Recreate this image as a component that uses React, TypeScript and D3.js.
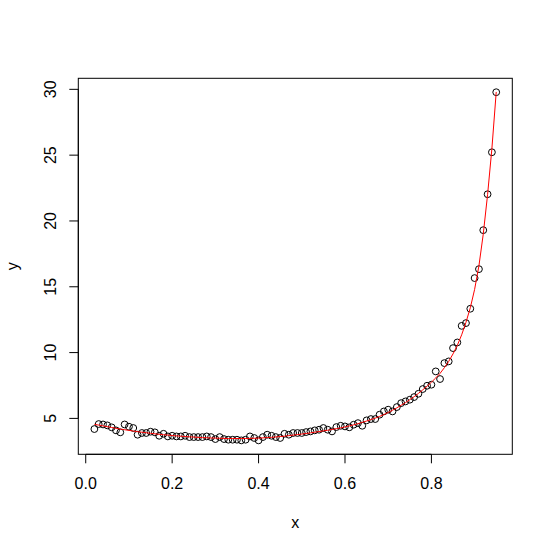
import React from "react";
import * as d3 from "d3";

const xValues = [
  0.02, 0.03, 0.04, 0.05, 0.06, 0.07, 0.08, 0.09, 0.10, 0.11, 0.12, 0.13, 0.14, 0.15, 0.16, 0.17, 0.18, 0.19, 0.20, 0.21,
  0.22, 0.23, 0.24, 0.25, 0.26, 0.27, 0.28, 0.29, 0.30, 0.31, 0.32, 0.33, 0.34, 0.35, 0.36, 0.37, 0.38, 0.39, 0.40, 0.41,
  0.42, 0.43, 0.44, 0.45, 0.46, 0.47, 0.48, 0.49, 0.50, 0.51, 0.52, 0.53, 0.54, 0.55, 0.56, 0.57, 0.58, 0.59, 0.60, 0.61,
  0.62, 0.63, 0.64, 0.65, 0.66, 0.67, 0.68, 0.69, 0.70, 0.71, 0.72, 0.73, 0.74, 0.75, 0.76, 0.77, 0.78, 0.79, 0.80, 0.81,
  0.82, 0.83, 0.84, 0.85, 0.86, 0.87, 0.88, 0.89, 0.90, 0.91, 0.92, 0.93, 0.94, 0.95,
];

const yObserved = [
  4.19, 4.57, 4.54, 4.47, 4.32, 4.09, 3.94, 4.54, 4.37, 4.27, 3.76, 3.89, 3.89, 3.99, 3.94, 3.68, 3.83, 3.63, 3.68, 3.63,
  3.63, 3.68, 3.58, 3.58, 3.58, 3.58, 3.63, 3.58, 3.43, 3.58, 3.43, 3.38, 3.38, 3.38, 3.33, 3.38, 3.63, 3.51, 3.33, 3.58,
  3.76, 3.68, 3.58, 3.51, 3.83, 3.76, 3.89, 3.89, 3.89, 3.96, 4.01, 4.09, 4.14, 4.27, 4.14, 4.01, 4.34, 4.44, 4.39, 4.32,
  4.52, 4.64, 4.44, 4.85, 4.95, 4.95, 5.28, 5.53, 5.66, 5.53, 5.86, 6.16, 6.29, 6.42, 6.62, 6.87, 7.23, 7.48, 7.56, 8.57,
  7.99, 9.20, 9.33, 10.34, 10.77, 12.03, 12.24, 13.33, 15.66, 16.34, 19.30, 22.03, 25.22, 29.78,
];

const yFitted = [
  4.55, 4.49, 4.43, 4.37, 4.31, 4.25, 4.19, 4.14, 4.09, 4.04, 3.99, 3.95, 3.91, 3.87, 3.83, 3.79, 3.76, 3.73, 3.70, 3.67,
  3.65, 3.62, 3.60, 3.58, 3.56, 3.54, 3.53, 3.51, 3.50, 3.49, 3.48, 3.47, 3.47, 3.47, 3.47, 3.47, 3.48, 3.49, 3.50, 3.52,
  3.54, 3.56, 3.59, 3.62, 3.65, 3.69, 3.73, 3.77, 3.81, 3.85, 3.90, 3.95, 4.00, 4.05, 4.10, 4.16, 4.22, 4.28, 4.35, 4.43,
  4.51, 4.60, 4.70, 4.80, 4.91, 5.02, 5.15, 5.29, 5.45, 5.62, 5.80, 6.00, 6.20, 6.42, 6.65, 6.90, 7.17, 7.45, 7.75, 8.07,
  8.42, 8.85, 9.33, 9.90, 10.55, 11.35, 12.30, 13.40, 14.80, 16.60, 19.00, 22.00, 25.50, 29.80,
];

const xTicks = [0.0, 0.2, 0.4, 0.6, 0.8];
const xTickLabels = ["0.0", "0.2", "0.4", "0.6", "0.8"];
const yTicks = [5, 10, 15, 20, 25, 30];
const yTickLabels = ["5", "10", "15", "20", "25", "30"];

const W = 553;
const H = 552;
const box = { left: 78.3, right: 512.3, top: 78.3, bottom: 454.3 };
const FONT = "Arial, 'Liberation Sans', Helvetica, sans-serif";

export default function App() {
  const xMin = d3.min(xValues) as number;
  const xMax = d3.max(xValues) as number;
  const yAll = yObserved.concat(yFitted.slice(0, 0));
  const yMin = d3.min(yAll) as number;
  const yMax = d3.max(yAll) as number;
  const xPad = (xMax - xMin) * 0.04;
  const yPad = (yMax - yMin) * 0.04;

  const xScale = d3.scaleLinear().domain([xMin - xPad, xMax + xPad]).range([box.left, box.right]);
  const yScale = d3.scaleLinear().domain([yMin - yPad, yMax + yPad]).range([box.bottom, box.top]);

  const line = d3
    .line<number>()
    .x((_, i) => xScale(xValues[i]))
    .y((d) => yScale(d));

  const tickLen = 9;

  return (
    <svg
      width={W}
      height={H}
      style={{ position: "absolute", left: 0, top: 0, background: "#ffffff" }}
      xmlns="http://www.w3.org/2000/svg"
    >
      <rect x={0} y={0} width={W} height={H} fill="#ffffff" />
      {/* points */}
      <g fill="none" stroke="#000000" strokeWidth={1}>
        {xValues.map((xv, i) => (
          <circle key={i} cx={xScale(xv)} cy={yScale(yObserved[i])} r={3.4} />
        ))}
      </g>
      {/* fitted line */}
      <path d={line(yFitted) || ""} fill="none" stroke="#ff0000" strokeWidth={1} />
      {/* box */}
      <rect
        x={box.left}
        y={box.top}
        width={box.right - box.left}
        height={box.bottom - box.top}
        fill="none"
        stroke="#000000"
        strokeWidth={1}
      />
      {/* x axis */}
      <g stroke="#000000" strokeWidth={1}>
        <line x1={xScale(xTicks[0])} x2={xScale(xTicks[xTicks.length - 1])} y1={box.bottom} y2={box.bottom} />
        {xTicks.map((t, i) => (
          <line key={i} x1={xScale(t)} x2={xScale(t)} y1={box.bottom} y2={box.bottom + tickLen} />
        ))}
      </g>
      <g fontFamily={FONT} fontSize={16} fill="#000000" textAnchor="middle">
        {xTicks.map((t, i) => (
          <text key={i} x={xScale(t)} y={489}>
            {xTickLabels[i]}
          </text>
        ))}
        <text x={(box.left + box.right) / 2} y={528}>
          x
        </text>
      </g>
      {/* y axis */}
      <g stroke="#000000" strokeWidth={1}>
        <line x1={box.left} x2={box.left} y1={yScale(yTicks[0])} y2={yScale(yTicks[yTicks.length - 1])} />
        {yTicks.map((t, i) => (
          <line key={i} x1={box.left - tickLen} x2={box.left} y1={yScale(t)} y2={yScale(t)} />
        ))}
      </g>
      <g fontFamily={FONT} fontSize={16} fill="#000000" textAnchor="middle">
        {yTicks.map((t, i) => (
          <text key={i} transform={`translate(56,${yScale(t)}) rotate(-90)`}>
            {yTickLabels[i]}
          </text>
        ))}
        <text transform={`translate(18,${(box.top + box.bottom) / 2}) rotate(-90)`}>y</text>
      </g>
    </svg>
  );
}
